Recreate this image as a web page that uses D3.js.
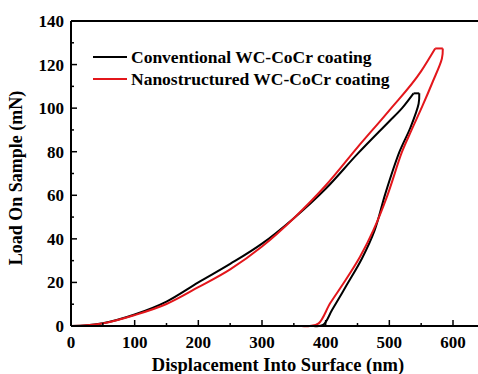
<!DOCTYPE html>
<html>
<head>
<meta charset="utf-8">
<script src="https://cdn.jsdelivr.net/npm/d3@7"></script>
<style>
  body { margin: 0; background: #fff; }
  text { font-family: "Liberation Serif", "Times New Roman", serif; font-weight: bold; }
</style>
</head>
<body>
<div id="chart"></div>
<script>
// Conventional WC-CoCr coating
const convLoadX = [0, 25, 50, 100, 150, 200, 250, 300, 350, 400, 450, 500, 520, 538];
const convLoadY = [0, 0.3, 1.3, 5.3, 11.2, 20, 28.5, 37.8, 49.5, 63, 79, 94, 100, 106.8];
const convUnloadX = [547, 546, 533, 516, 494, 477, 457, 433, 410, 396, 381];
const convUnloadY = [106.8, 102, 91, 80, 61, 44, 31, 18.8, 7.3, 0.5, 0];

// Nanostructured WC-CoCr coating
const nanoLoadX = [0, 25, 50, 100, 150, 200, 250, 300, 350, 400, 450, 500, 550, 572];
const nanoLoadY = [0, 0.3, 1.2, 5, 10.1, 17.8, 26, 36.5, 49.5, 64.5, 82, 99, 117, 127.4];
const nanoUnloadX = [584, 582.6, 568, 552, 535, 520, 497, 475, 454, 428, 407, 389, 375, 362];
const nanoUnloadY = [127.4, 122.8, 112, 101, 90, 80, 60, 44, 31.8, 19.6, 10.4, 1.2, 0, 0];

const xTicks = [0, 100, 200, 300, 400, 500, 600];
const yTicks = [0, 20, 40, 60, 80, 100, 120, 140];

const series = [
  { name: "Conventional WC-CoCr coating", color: "#000",
    lx: convLoadX, ly: convLoadY, ux: convUnloadX, uy: convUnloadY },
  { name: "Nanostructured WC-CoCr coating", color: "#e3161b",
    lx: nanoLoadX, ly: nanoLoadY, ux: nanoUnloadX, uy: nanoUnloadY }
];

const W = 478, H = 374;
const margin = { left: 71, top: 21, bottom: 48 };

const x = d3.scaleLinear().domain([0, 600]).range([margin.left, 453]);
const y = d3.scaleLinear().domain([0, 140]).range([H - margin.bottom, margin.top]);

const svg = d3.select("#chart").append("svg")
  .attr("width", W)
  .attr("height", H);

// curves: loading and unloading are smoothed, the hold at max load is a straight piece
const loadLine = d3.line()
  .x(d => x(d[0]))
  .y(d => y(d[1]))
  .curve(d3.curveMonotoneX);
const unloadLine = d3.line()
  .x(d => x(d[0]))
  .y(d => y(d[1]))
  .curve(d3.curveCatmullRom.alpha(0.5));

series.forEach(s => {
  const load = s.lx.map((v, i) => [v, s.ly[i]]);
  const unload = s.ux.map((v, i) => [v, s.uy[i]]);
  const hold = [load[load.length - 1], unload[0]];
  const g = svg.append("g")
    .attr("fill", "none")
    .attr("stroke", s.color)
    .attr("stroke-width", 2)
    .attr("stroke-linejoin", "round");
  g.append("path").attr("d", loadLine(load));
  g.append("path").attr("d", d3.line().x(d => x(d[0])).y(d => y(d[1]))(hold));
  g.append("path").attr("d", unloadLine(unload));
});

// top spine runs out to the edge
svg.append("line")
  .attr("x1", margin.left).attr("x2", W)
  .attr("y1", y(140)).attr("y2", y(140))
  .attr("stroke", "#000").attr("stroke-width", 2);

// x axis, ticks pointing inwards
const xMinor = d3.range(50, 650, 100);
const xAxis = svg.append("g").attr("transform", "translate(0," + y(0) + ")");
xAxis.append("line")
  .attr("x1", margin.left).attr("x2", W)
  .attr("stroke", "#000").attr("stroke-width", 2);
xAxis.selectAll(".maj").data(xTicks.filter(d => d > 0)).enter().append("line")
  .attr("x1", d => x(d)).attr("x2", d => x(d))
  .attr("y1", 0).attr("y2", -6)
  .attr("stroke", "#000").attr("stroke-width", 1.5);
xAxis.selectAll(".min").data(xMinor).enter().append("line")
  .attr("x1", d => x(d)).attr("x2", d => x(d))
  .attr("y1", 0).attr("y2", -3)
  .attr("stroke", "#000").attr("stroke-width", 1.5);
xAxis.selectAll("text").data(xTicks).enter().append("text")
  .attr("x", d => x(d))
  .attr("y", 22)
  .attr("text-anchor", "middle")
  .attr("font-size", 17)
  .text(d => d);

// y axis
const yMinor = d3.range(10, 140, 20);
const yAxis = svg.append("g").attr("transform", "translate(" + margin.left + ",0)");
yAxis.append("line")
  .attr("y1", y(0)).attr("y2", y(140))
  .attr("stroke", "#000").attr("stroke-width", 2);
yAxis.selectAll(".maj").data(yTicks.filter(d => d > 0 && d < 140)).enter().append("line")
  .attr("y1", d => y(d)).attr("y2", d => y(d))
  .attr("x1", 0).attr("x2", 6)
  .attr("stroke", "#000").attr("stroke-width", 1.5);
yAxis.selectAll(".min").data(yMinor).enter().append("line")
  .attr("y1", d => y(d)).attr("y2", d => y(d))
  .attr("x1", 0).attr("x2", 3)
  .attr("stroke", "#000").attr("stroke-width", 1.5);
yAxis.selectAll("text").data(yTicks).enter().append("text")
  .attr("x", -7)
  .attr("y", d => y(d))
  .attr("dy", "0.35em")
  .attr("text-anchor", "end")
  .attr("font-size", 17)
  .text(d => d);

// axis titles
svg.append("text")
  .attr("x", 278)
  .attr("y", 371)
  .attr("text-anchor", "middle")
  .attr("font-size", 18.5)
  .text("Displacement Into Surface (nm)");

svg.append("text")
  .attr("transform", "translate(22,178) rotate(-90)")
  .attr("text-anchor", "middle")
  .attr("font-size", 18)
  .text("Load On Sample (mN)");

// legend
const legend = svg.append("g");
series.forEach((s, i) => {
  const ly = 57 + i * 22;
  legend.append("line")
    .attr("x1", 93).attr("x2", 127)
    .attr("y1", ly).attr("y2", ly)
    .attr("stroke", s.color).attr("stroke-width", 2);
  legend.append("text")
    .attr("x", 131)
    .attr("y", ly)
    .attr("dy", "0.35em")
    .attr("font-size", 17.5)
    .text(s.name);
});
</script>
</body>
</html>
